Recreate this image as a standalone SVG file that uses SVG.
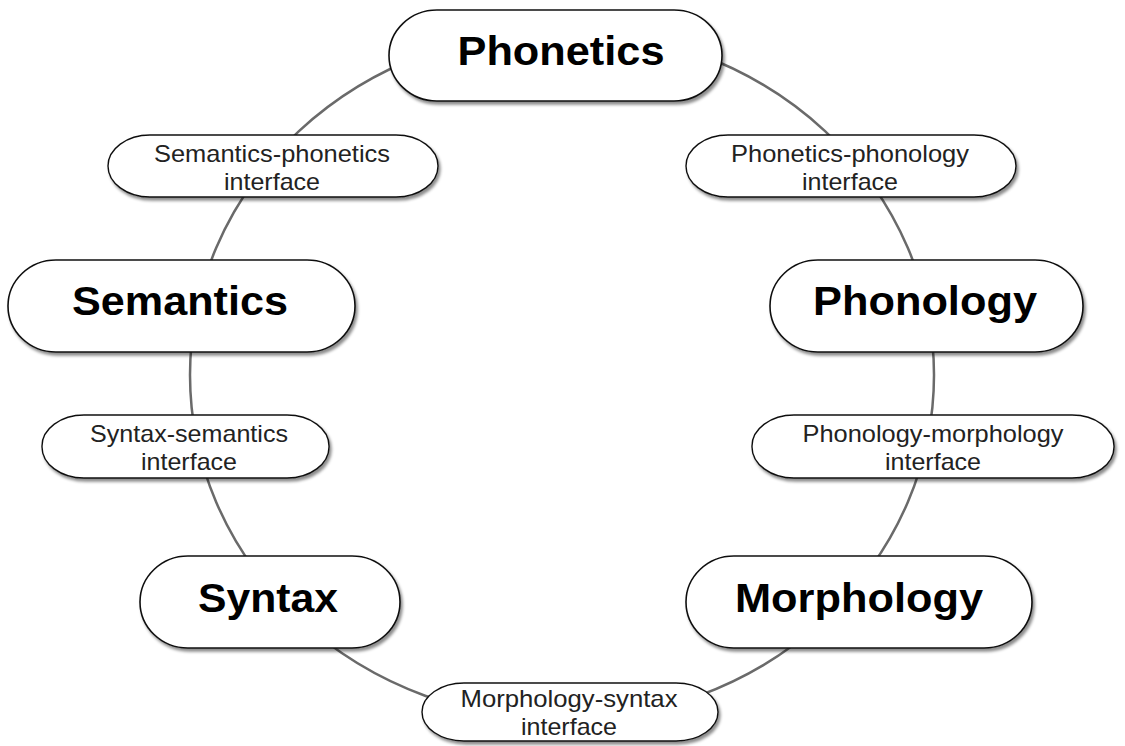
<svg xmlns="http://www.w3.org/2000/svg" width="1125" height="746" viewBox="0 0 1125 746">
<defs>
<filter id="sh" x="-10%" y="-20%" width="120%" height="150%">
<feDropShadow dx="2" dy="3" stdDeviation="1.8" flood-color="#000" flood-opacity="0.45"/>
</filter>
<style>
.big{fill:#fff;stroke:#111;stroke-width:1.6;filter:url(#sh)}
.sm{fill:#fff;stroke:#111;stroke-width:1.4;filter:url(#sh)}
.bt{font-family:"Liberation Sans",Arial,sans-serif;font-weight:bold;font-size:40px;fill:#000;text-anchor:middle}
.st{font-family:"Liberation Sans",Arial,sans-serif;font-size:24px;fill:#222;text-anchor:middle}
.conn{fill:none;stroke:#6a6a6a;stroke-width:2.5}
</style>
</defs>
<rect width="1125" height="746" fill="#fff"/>
<g id="connectors">
<ellipse class="conn" cx="562" cy="375" rx="372" ry="345"/>
</g>
<g id="phonetics"><rect class="big" x="389" y="10" width="333" height="91" rx="48" ry="45.5"/><text class="bt" x="561" y="65" textLength="207" lengthAdjust="spacingAndGlyphs">Phonetics</text></g>
<g id="sem-phon"><rect class="sm" x="108" y="135" width="330" height="62" rx="42" ry="31"/><text class="st" x="272" y="162" textLength="236" lengthAdjust="spacingAndGlyphs">Semantics-phonetics</text><text class="st" x="272" y="190" textLength="96" lengthAdjust="spacingAndGlyphs">interface</text></g>
<g id="phon-phonol"><rect class="sm" x="686" y="135" width="330" height="62" rx="42" ry="31"/><text class="st" x="850" y="162" textLength="238" lengthAdjust="spacingAndGlyphs">Phonetics-phonology</text><text class="st" x="850" y="190" textLength="96" lengthAdjust="spacingAndGlyphs">interface</text></g>
<g id="semantics"><rect class="big" x="8" y="260" width="347" height="92" rx="48" ry="46"/><text class="bt" x="180" y="315" textLength="216" lengthAdjust="spacingAndGlyphs">Semantics</text></g>
<g id="phonology"><rect class="big" x="770" y="260" width="313" height="92" rx="48" ry="46"/><text class="bt" x="925" y="315" textLength="224" lengthAdjust="spacingAndGlyphs">Phonology</text></g>
<g id="syn-sem"><rect class="sm" x="42" y="415" width="287" height="63" rx="42" ry="31"/><text class="st" x="189" y="442" textLength="198" lengthAdjust="spacingAndGlyphs">Syntax-semantics</text><text class="st" x="189" y="470" textLength="96" lengthAdjust="spacingAndGlyphs">interface</text></g>
<g id="phonol-morph"><rect class="sm" x="752" y="415" width="362" height="63" rx="42" ry="31"/><text class="st" x="933" y="442" textLength="261" lengthAdjust="spacingAndGlyphs">Phonology-morphology</text><text class="st" x="933" y="470" textLength="96" lengthAdjust="spacingAndGlyphs">interface</text></g>
<g id="syntax"><rect class="big" x="140" y="556" width="260" height="92" rx="48" ry="46"/><text class="bt" x="268" y="612" textLength="140" lengthAdjust="spacingAndGlyphs">Syntax</text></g>
<g id="morphology"><rect class="big" x="686" y="556" width="346" height="92" rx="48" ry="46"/><text class="bt" x="859" y="612" textLength="248" lengthAdjust="spacingAndGlyphs">Morphology</text></g>
<g id="morph-syn"><rect class="sm" x="422" y="683" width="296" height="58" rx="42" ry="29"/><text class="st" x="569" y="707" textLength="217" lengthAdjust="spacingAndGlyphs">Morphology-syntax</text><text class="st" x="569" y="735" textLength="96" lengthAdjust="spacingAndGlyphs">interface</text></g>
</svg>
